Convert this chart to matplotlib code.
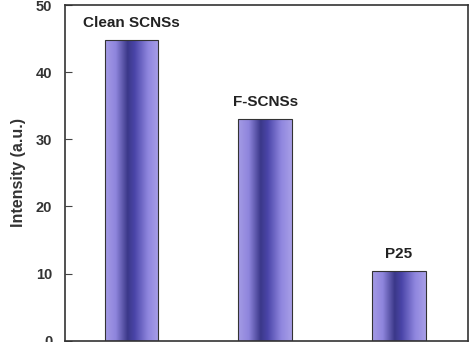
import numpy as np
import matplotlib
matplotlib.use("Agg")
import matplotlib.pyplot as plt
from matplotlib.colors import LinearSegmentedColormap
from matplotlib.patches import Rectangle

categories = ["Clean SCNSs", "F-SCNSs", "P25"]
values = [44.8, 33.0, 10.4]
yticks = [0, 10, 20, 30, 40, 50]

plt.rcParams['font.family'] = ['Liberation Sans', 'DejaVu Sans']
fig = plt.figure(figsize=(4.73, 3.42), dpi=100)
ax = fig.add_axes([0.137, 0.004, 0.853, 0.981])

cmap = LinearSegmentedColormap.from_list(
    "bar", [(0.0, "#a59be6"), (0.2, "#8e85dc"), (0.42, "#3b3889"),
            (0.55, "#4a45a8"), (0.8, "#8f86de"), (1.0, "#a89fe8")])
grad = np.linspace(0, 1, 256).reshape(1, -1)

width = 0.4
x = np.arange(len(categories))
bars = ax.bar(x, values, width=width, color="none", edgecolor="#333333", linewidth=0.8, zorder=3)
for b, lab in zip(bars, categories):
    x0, w, h = b.get_x(), b.get_width(), b.get_height()
    im = ax.imshow(grad, cmap=cmap, aspect="auto", extent=[x0, x0 + w, 0, h], zorder=2)
    clip = Rectangle((x0, 0), w, h, transform=ax.transData)
    im.set_clip_path(clip)
    ax.text(x0 + w / 2, h + 1.5, lab, ha="center", va="bottom", fontsize=11,
            fontweight="bold", color="#222222")

ax.set_xlim(-0.5, 2.52)
ax.set_ylim(0, 50)
ax.set_yticks(yticks)
ax.set_yticklabels([str(t) for t in yticks], fontsize=10.5, fontweight="bold", color="#333333")
ax.set_xticks([])
ax.tick_params(axis="y", direction="in", length=5, width=0.8, color="#444444", pad=9)
ax.set_ylabel("Intensity (a.u.)", fontsize=11.5, fontweight="bold", color="#333333", labelpad=7)
for s in ax.spines.values():
    s.set_linewidth(1.2)
    s.set_color("#333333")

fig.savefig("out.png", dpi=100)
